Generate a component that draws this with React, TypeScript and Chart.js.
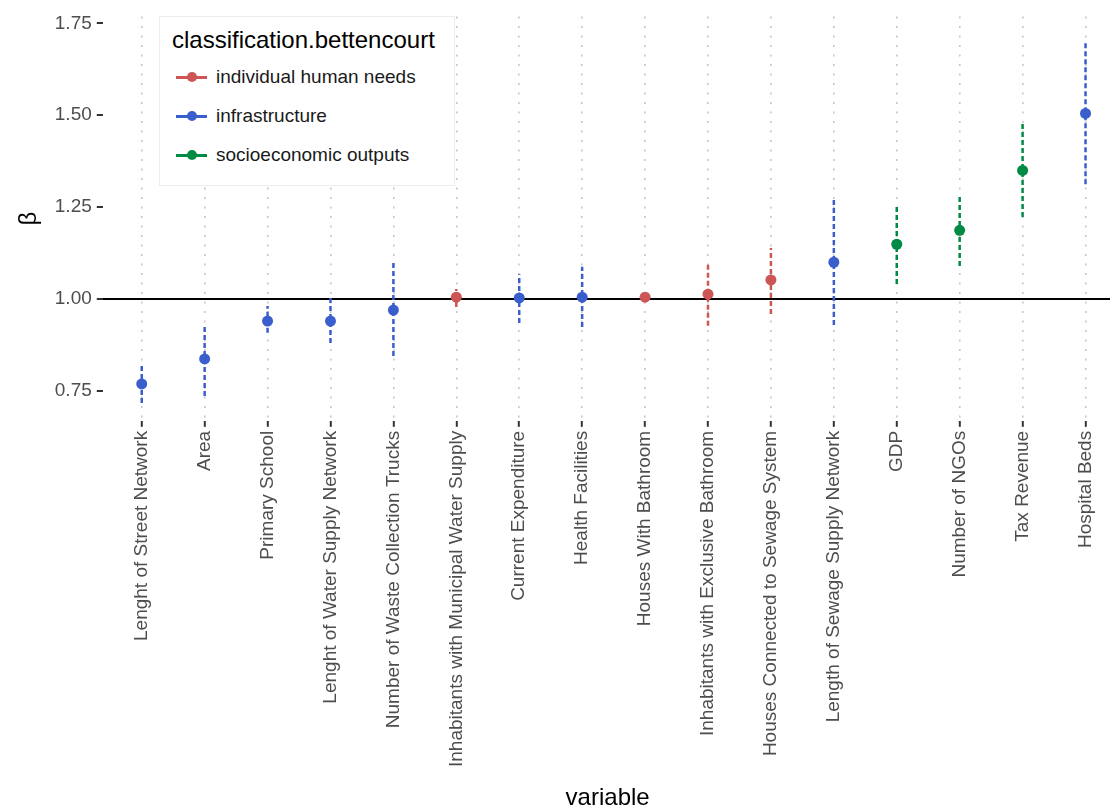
import React, { useEffect, useRef } from "react";
import { Chart, registerables } from "chart.js";

Chart.register(...registerables);

const variables = [
  "Lenght of Street Network",
  "Area",
  "Primary School",
  "Lenght of Water Supply Network",
  "Number of Waste Collection Trucks",
  "Inhabitants with Municipal Water Supply",
  "Current Expenditure",
  "Health Facilities",
  "Houses With Bathroom",
  "Inhabitants with Exclusive Bathroom",
  "Houses Connected to Sewage System",
  "Length of Sewage Supply Network",
  "GDP",
  "Number of NGOs",
  "Tax Revenue",
  "Hospital Beds",
];

const classification = [
  "infrastructure",
  "infrastructure",
  "infrastructure",
  "infrastructure",
  "infrastructure",
  "individual human needs",
  "infrastructure",
  "infrastructure",
  "individual human needs",
  "individual human needs",
  "individual human needs",
  "infrastructure",
  "socioeconomic outputs",
  "socioeconomic outputs",
  "socioeconomic outputs",
  "infrastructure",
];

const beta = [0.769, 0.837, 0.94, 0.94, 0.97, 1.005, 1.003, 1.005, 1.005, 1.013, 1.052, 1.1, 1.149, 1.187, 1.35, 1.505];
const betaLower = [0.717, 0.736, 0.908, 0.88, 0.845, 0.978, 0.935, 0.924, 0.996, 0.927, 0.959, 0.929, 1.041, 1.09, 1.223, 1.3125];
const betaUpper = [0.818, 0.932, 0.981, 1.008, 1.098, 1.027, 1.067, 1.088, 1.013, 1.098, 1.139, 1.272, 1.255, 1.285, 1.478, 1.7];

const groups = ["individual human needs", "infrastructure", "socioeconomic outputs"];
const groupColors = ["#CD5555", "#3A5FCD", "#008B45"];

const yTicks = [0.75, 1.0, 1.25, 1.5, 1.75];
const legendTitle = "classification.bettencourt";
const xTitle = "variable";
const yTitle = "β";

const FONT = "'Liberation Sans', Arial, Helvetica, sans-serif";

export default function App() {
  const canvasRef = useRef<HTMLCanvasElement | null>(null);

  useEffect(() => {
    const canvas = canvasRef.current;
    if (!canvas) return;

    const colorOf = (cls: string) => groupColors[groups.indexOf(cls)];

    const errorSets = variables.map((v, i) => ({
      label: "err-" + v,
      data: [
        { x: i, y: betaLower[i] },
        { x: i, y: betaUpper[i] },
      ],
      showLine: true,
      borderColor: colorOf(classification[i]),
      backgroundColor: colorOf(classification[i]),
      borderWidth: 2.5,
      borderDash: [5, 3],
      pointRadius: 0,
      order: 2,
    }));

    const pointSets = groups.map((g, gi) => ({
      label: g,
      data: variables
        .map((v, i) => ({ x: i, y: beta[i], c: classification[i] }))
        .filter((d) => d.c === g)
        .map((d) => ({ x: d.x, y: d.y })),
      showLine: false,
      backgroundColor: groupColors[gi],
      borderColor: groupColors[gi],
      pointRadius: 5.5,
      pointBorderWidth: 0,
      order: 1,
    }));

    const chart = new Chart(canvas, {
      type: "scatter",
      data: { datasets: [...errorSets, ...pointSets] as any },
      options: {
        animation: false,
        responsive: false,
        maintainAspectRatio: false,
        layout: { padding: { left: 8, right: 0, top: 0, bottom: 0 } },
        plugins: {
          legend: { display: false },
          tooltip: { enabled: false },
        },
        scales: {
          x: {
            type: "linear",
            min: -0.619,
            max: 15.429,
            afterBuildTicks: (scale: any) => {
              scale.ticks = variables.map((_, i) => ({ value: i }));
            },
            ticks: {
              autoSkip: false,
              minRotation: 90,
              maxRotation: 90,
              padding: 4,
              color: "#4d4d4d",
              font: { family: FONT, size: 19 },
              callback: (value: any) => variables[Math.round(Number(value))] ?? "",
            },
            grid: {
              display: true,
              drawOnChartArea: true,
              color: "#c6c6c6",
              lineWidth: 1.6,
              borderDash: [2, 7.5],
              tickColor: "#333333",
              tickLength: 6,
              tickWidth: 2,
              tickBorderDash: [],
            } as any,
            border: { display: false, dash: [2, 7.5] } as any,
            title: {
              display: true,
              text: xTitle,
              color: "#000000",
              font: { family: FONT, size: 24, lineHeight: 1.0 },
              padding: { top: 15, bottom: -3 },
            },
          },
          y: {
            type: "linear",
            min: 0.6685,
            max: 1.769,
            afterBuildTicks: (scale: any) => {
              scale.ticks = yTicks.map((v) => ({ value: v }));
            },
            ticks: {
              padding: 5,
              color: "#4d4d4d",
              font: { family: FONT, size: 19 },
              callback: (value: any) => Number(value).toFixed(2),
            },
            grid: {
              display: true,
              drawOnChartArea: true,
              color: (ctx: any) => (ctx.tick && Math.abs(ctx.tick.value - 1) < 1e-9 ? "#000000" : "rgba(0,0,0,0)"),
              lineWidth: 2,
              tickColor: "#333333",
              tickLength: 6,
              tickWidth: 2,
            } as any,
            border: { display: false },
            title: {
              display: true,
              text: yTitle,
              color: "#000000",
              font: { family: FONT, size: 24 },
              padding: { top: 7, bottom: 6 },
            },
          },
        },
      } as any,
    });

    return () => {
      chart.destroy();
    };
  }, []);

  const legendItems = groups.map((g, i) => (
    <div
      key={g}
      style={{
        position: "absolute",
        left: 16,
        top: 49 + i * 39,
        height: 22,
        display: "flex",
        alignItems: "center",
      }}
    >
      <div style={{ position: "relative", width: 31, height: 22 }}>
        <div
          style={{
            position: "absolute",
            left: 0,
            top: 10,
            width: 31,
            height: 2.5,
            background: groupColors[i],
          }}
        />
        <div
          style={{
            position: "absolute",
            left: 10.5,
            top: 6,
            width: 10,
            height: 10,
            borderRadius: "50%",
            background: groupColors[i],
          }}
        />
      </div>
      <span style={{ marginLeft: 9, fontSize: 19, color: "#1a1a1a", fontFamily: FONT, whiteSpace: "nowrap" }}>{g}</span>
    </div>
  ));

  return (
    <div
      style={{
        position: "absolute",
        left: 0,
        top: 0,
        width: 1110,
        height: 807,
        overflow: "hidden",
        background: "#ffffff",
      }}
    >
      <canvas ref={canvasRef} width={1118} height={807} style={{ display: "block" }} />
      <div
        style={{
          position: "absolute",
          left: 159,
          top: 16,
          width: 296,
          height: 170,
          background: "#ffffff",
          border: "1px solid #ececec",
          boxSizing: "border-box",
          fontFamily: FONT,
        }}
      >
        <div
          style={{
            position: "absolute",
            left: 12,
            top: 9,
            fontSize: 24,
            color: "#000000",
            whiteSpace: "nowrap",
            lineHeight: "28px",
          }}
        >
          {legendTitle}
        </div>
        {legendItems}
      </div>
    </div>
  );
}
